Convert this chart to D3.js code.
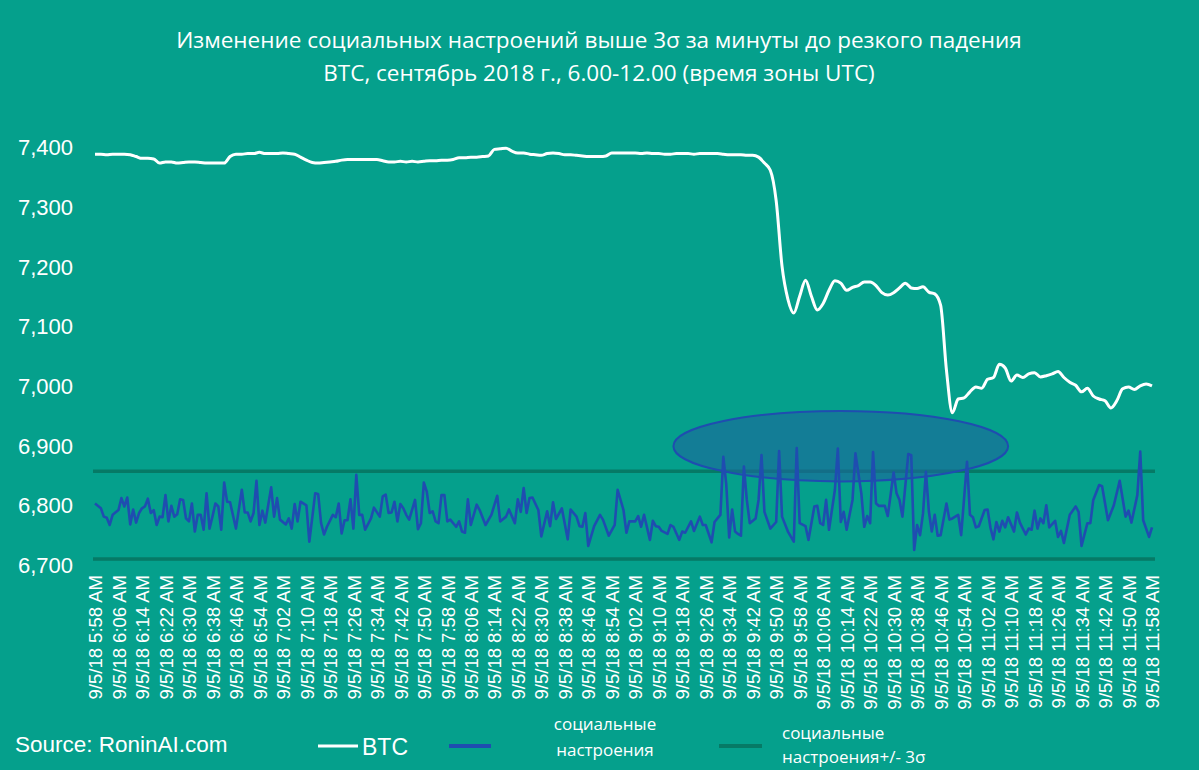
<!DOCTYPE html>
<html><head><meta charset="utf-8">
<script src="https://cdn.jsdelivr.net/npm/d3@7"></script>
<style>html,body{margin:0;padding:0;background:#05a08c;} svg{display:block}</style>
</head><body>
<svg id="chart" width="1199" height="770"></svg>
<script>
// ---------- DATA ----------
const titleLines = [
  "Изменение социальных настроений выше 3σ за минуты до резкого падения",
  "BTC, сентябрь 2018 г., 6.00-12.00 (время зоны UTC)"
];
const yTickValues = [6700, 6800, 6900, 7000, 7100, 7200, 7300, 7400];
const xTickLabels = [
  "9/5/18 5:58 AM","9/5/18 6:06 AM","9/5/18 6:14 AM","9/5/18 6:22 AM","9/5/18 6:30 AM","9/5/18 6:38 AM",
  "9/5/18 6:46 AM","9/5/18 6:54 AM","9/5/18 7:02 AM","9/5/18 7:10 AM","9/5/18 7:18 AM","9/5/18 7:26 AM",
  "9/5/18 7:34 AM","9/5/18 7:42 AM","9/5/18 7:50 AM","9/5/18 7:58 AM","9/5/18 8:06 AM","9/5/18 8:14 AM",
  "9/5/18 8:22 AM","9/5/18 8:30 AM","9/5/18 8:38 AM","9/5/18 8:46 AM","9/5/18 8:54 AM","9/5/18 9:02 AM",
  "9/5/18 9:10 AM","9/5/18 9:18 AM","9/5/18 9:26 AM","9/5/18 9:34 AM","9/5/18 9:42 AM","9/5/18 9:50 AM",
  "9/5/18 9:58 AM","9/5/18 10:06 AM","9/5/18 10:14 AM","9/5/18 10:22 AM","9/5/18 10:30 AM","9/5/18 10:38 AM",
  "9/5/18 10:46 AM","9/5/18 10:54 AM","9/5/18 11:02 AM","9/5/18 11:10 AM","9/5/18 11:18 AM","9/5/18 11:26 AM",
  "9/5/18 11:34 AM","9/5/18 11:42 AM","9/5/18 11:50 AM","9/5/18 11:58 AM"
];
const tickStepMinutes = 8;     // minutes between axis labels
const totalMinutes = 360;      // 5:58 -> 11:58

// BTC price, every 2 minutes from 5:58
const btcStep = 2;
const btcValues = [
  7388,7388,7387,7388,7388,7388,7387,7384,7381,7381,7380,7373,7375,7375,7373,7374,7375,7375,7374,7373,
  7373,7373,7373,7384,7388,7388,7389,7389,7391,7389,7389,7389,7390,7389,7388,7383,7378,7374,7373,7374,
  7375,7376,7378,7379,7379,7379,7379,7379,7379,7377,7375,7375,7376,7375,7376,7375,7376,7377,7377,7378,
  7378,7379,7382,7382,7383,7383,7384,7385,7396,7397,7398,7393,7390,7390,7388,7387,7386,7389,7390,7389,
  7387,7387,7386,7385,7384,7384,7384,7385,7390,7390,7390,7390,7390,7389,7390,7389,7389,7388,7388,7389,
  7389,7389,7388,7389,7389,7389,7389,7388,7387,7387,7387,7386,7386,7383,7373,7361,7310,7200,7145,7122,
  7150,7177,7150,7127,7138,7160,7176,7172,7160,7165,7168,7174,7174,7168,7156,7152,7156,7164,7172,7164,
  7163,7166,7157,7154,7135,7026,6955,6978,6980,6990,6998,6996,7011,7014,7036,7030,7008,7018,7014,7020,
  7022,7015,7017,7020,7024,7014,7006,7001,6990,6996,6983,6978,6975,6963,6975,6995,6998,6994,7000,7003,
  7000
];

// Social sentiment (plotted on the BTC scale): minute offset from 5:58 and value
const sentMinutes = [
  0,2,3,4,5,6,8,9,10,11,12,13,14,15,16,17,18,19,20,21,22,23,24,25,26,27,28,29,30,31,32,33,34,35,36,37,38,39,40,41,42,43,44,45,46,48,50,51,52,53,54,55,56,57,58,60,61,62,63,65,66,67,68,69,70,72,73,75,76,77,78,79,81,82,83,84,85,86,87,88,89,90,91,92,94,95,97,98,99,100,
  101,102,103,104,105,106,107,109,110,111,112,113,114,115,116,117,118,119,120,121,123,124,125,126,127,128,130,131,133,135,137,138,140,141,143,144,145,146,147,148,149,151,152,154,155,156,157,159,161,162,164,165,166,167,168,170,172,173,175,177,178,180,181,182,184,185,186,187,189,190,191,192,193,195,196,197,199,200,
  201,203,204,206,207,208,210,211,212,213,214,215,216,217,218,219,220,221,222,223,225,226,227,228,230,232,233,234,236,238,239,240,242,243,245,246,247,248,249,250,252,253,254,255,256,258,259,261,262,263,264,265,266,267,269,270,272,273,274,275,277,278,279,280,281,282,283,284,285,286,287,288,290,291,292,294,295,297,298,299,300,
  301,303,304,305,306,307,308,309,310,311,313,314,315,317,318,319,320,321,322,323,324,325,327,328,329,330,332,334,335,336,338,339,340,342,343,345,347,349,351,352,353,355,356,357,359,360
];
const sentValues = [
  6803,6795,6781,6779,6767,6784,6792,6812,6798,6813,6768,6793,6771,6787,6795,6798,6811,6787,6792,6767,6781,6780,6817,6773,6799,6781,6785,6810,6809,6778,6773,6803,6756,6784,6784,6759,6820,6761,6781,6803,6798,6759,6838,6806,6805,6761,6826,6788,6788,6773,6787,6841,6767,6791,6771,6830,6781,6812,6776,6768,6778,6761,6802,6773,6806,6800,6739,6820,6819,6770,6751,6764,6784,6780,6803,6753,6775,6775,6810,6761,6851,6784,6784,6759,6778,6796,6781,6815,6818,6787,
  6788,6806,6773,6802,6795,6784,6776,6809,6760,6770,6838,6823,6787,6790,6773,6770,6817,6817,6773,6776,6764,6773,6756,6754,6810,6767,6801,6792,6767,6784,6816,6773,6781,6793,6770,6810,6789,6829,6787,6812,6813,6792,6748,6790,6765,6805,6777,6795,6743,6793,6781,6765,6764,6787,6732,6765,6784,6776,6749,6767,6826,6792,6754,6773,6773,6782,6764,6784,6742,6774,6765,6764,6757,6752,6767,6764,6742,6756,
  6754,6773,6757,6781,6767,6767,6738,6772,6778,6784,6881,6835,6746,6793,6756,6752,6749,6865,6809,6770,6778,6809,6884,6789,6761,6772,6891,6781,6756,6739,6896,6770,6765,6742,6798,6799,6770,6767,6809,6759,6826,6895,6772,6789,6759,6809,6887,6820,6764,6782,6770,6889,6803,6799,6799,6782,6855,6820,6809,6781,6886,6884,6725,6767,6750,6786,6856,6790,6756,6784,6749,6750,6803,6776,6778,6784,6750,6873,6784,6780,6763,
  6765,6792,6793,6762,6743,6772,6756,6774,6763,6780,6756,6788,6771,6751,6761,6759,6791,6761,6778,6770,6800,6763,6774,6747,6757,6737,6784,6798,6789,6732,6770,6770,6809,6834,6832,6775,6800,6841,6781,6791,6771,6817,6890,6775,6747,6763
];

// +/- 3 sigma band of social sentiment (on the BTC scale)
const sigmaUpper = 6857;
const sigmaLower = 6710;

// highlight ellipse: centre (minute, value) and half extents (minutes, value units)
const highlightCenter = [254, 6899];
const highlightRadius = [57, 59];

const legendItems = [
  {label: ["BTC"], color: "#ffffff"},
  {label: ["социальные", "настроения"], color: "#1f4db0"},
  {label: ["социальные", "настроения+/- 3σ"], color: "#067a66"}
];
const sourceText = "Source: RoninAI.com";

// ---------- DRAW ----------
const svg = d3.select("#chart");
const W = 1199, H = 770;
svg.append("rect").attr("width", W).attr("height", H).attr("fill", "#05a08c");

const x = d3.scaleLinear().domain([0, totalMinutes]).range([95, 1152]);
const y = d3.scaleLinear().domain([6700, 7400]).range([565, 147]);

// title
svg.append("g").selectAll("text").data(titleLines).join("text")
  .attr("x", 599).attr("y", (d, i) => 48 + i * 33)
  .attr("text-anchor", "middle")
  .attr("fill", "#ffffff")
  .style("font-family", "'Open Sans', 'Noto Sans', sans-serif")
  .style("font-size", "22.5px")
  .text(d => d);

// y axis
const yAxis = d3.axisLeft(y).tickValues(yTickValues).tickFormat(d3.format(",")).tickSize(0).tickPadding(0);
const gy = svg.append("g").attr("transform", "translate(73,0)").call(yAxis);
gy.select(".domain").remove();
gy.selectAll("text").attr("fill", "#ffffff").attr("dy", "0.35em")
  .style("font-family", "'Liberation Sans', Arial, sans-serif").style("font-size", "22px");

// x axis
const xTickVals = xTickLabels.map((d, i) => i * tickStepMinutes);
const xAxis = d3.axisBottom(x).tickValues(xTickVals).tickFormat((d, i) => xTickLabels[i]).tickSize(0).tickPadding(0);
const gx = svg.append("g").attr("transform", "translate(0,575)").call(xAxis);
gx.select(".domain").remove();
gx.selectAll("text")
  .attr("fill", "#ffffff")
  .attr("text-anchor", "end")
  .attr("transform", "rotate(-90)")
  .attr("x", 0).attr("y", 0).attr("dx", 0).attr("dy", "0.36em")
  .style("font-family", "'Liberation Sans', Arial, sans-serif").style("font-size", "18.5px");

// sigma lines
[sigmaUpper, sigmaLower].forEach(v => {
  svg.append("rect")
    .attr("x", x(0) - 2).attr("width", x(totalMinutes) - x(0) + 5)
    .attr("y", y(v) - 1.75).attr("height", 3.5)
    .attr("fill", "#067a66");
});

// highlight ellipse
svg.append("ellipse")
  .attr("cx", x(highlightCenter[0])).attr("cy", y(highlightCenter[1]))
  .attr("rx", x(highlightRadius[0]) - x(0))
  .attr("ry", y(highlightCenter[1] - highlightRadius[1]) - y(highlightCenter[1]))
  .attr("fill", "#1c669c").attr("fill-opacity", 0.6)
  .attr("stroke", "#1f4db0").attr("stroke-width", 2);

// social sentiment line
const sentData = sentMinutes.map((m, i) => [m, sentValues[i]]);
svg.append("path").datum(sentData)
  .attr("fill", "none").attr("stroke", "#1f4db0").attr("stroke-width", 2.6)
  .attr("stroke-linejoin", "round")
  .attr("d", d3.line().x(d => x(d[0])).y(d => y(d[1])));

// BTC line
const btcData = btcValues.map((v, i) => [i * btcStep, v]);
svg.append("path").datum(btcData)
  .attr("fill", "none").attr("stroke", "#ffffff").attr("stroke-width", 3)
  .attr("stroke-linejoin", "round")
  .attr("d", d3.line().x(d => x(d[0])).y(d => y(d[1])).curve(d3.curveMonotoneX));

// source
svg.append("text").attr("x", 15).attr("y", 752)
  .attr("fill", "#ffffff")
  .style("font-family", "'Liberation Sans', Arial, sans-serif").style("font-size", "22.5px")
  .text(sourceText);

// legend
const legendPos = [
  {lx: 318, lw: 40, tx: 362, ty: [755], anchor: "start", fs: 23, font: "'Liberation Sans', Arial, sans-serif"},
  {lx: 449, lw: 42, tx: 605, ty: [730, 756], anchor: "middle", fs: 17, font: "'Open Sans', sans-serif"},
  {lx: 719, lw: 43, tx: 782, ty: [739, 763], anchor: "start", fs: 17, font: "'Open Sans', sans-serif"}
];
const lg = svg.append("g");
legendItems.forEach((it, i) => {
  const p = legendPos[i];
  lg.append("line").attr("x1", p.lx).attr("x2", p.lx + p.lw).attr("y1", 746).attr("y2", 746)
    .attr("stroke", it.color).attr("stroke-width", i === 0 ? 3 : 4);
  it.label.forEach((t, j) => {
    lg.append("text").attr("x", p.tx).attr("y", p.ty[j]).attr("text-anchor", p.anchor)
      .attr("fill", "#ffffff").style("font-family", p.font).style("font-size", p.fs + "px").text(t);
  });
});
</script>
</body></html>
